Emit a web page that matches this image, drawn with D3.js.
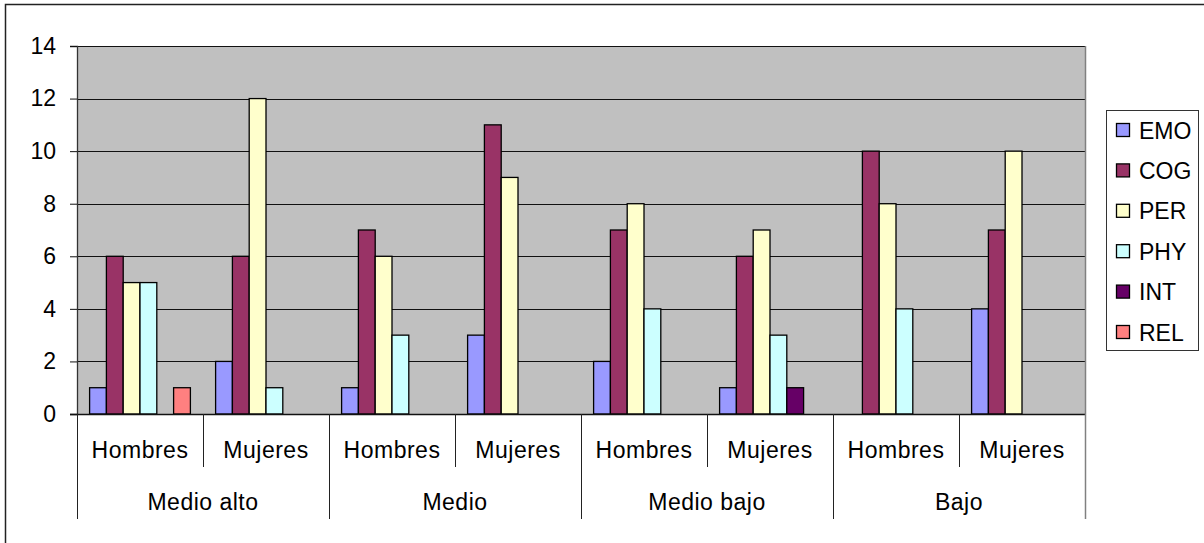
<!DOCTYPE html>
<html>
<head>
<meta charset="utf-8">
<script src="https://cdn.jsdelivr.net/npm/d3@7"></script>
<style>
  html, body { margin: 0; padding: 0; background: #fff; }
  svg { display: block; font-family: "Liberation Sans", Arial, sans-serif; }
</style>
</head>
<body>
<svg id="chart" width="1204" height="543"></svg>
<script>
// ---- Data ----
const groups = ["Medio alto", "Medio", "Medio bajo", "Bajo"];
const genders = ["Hombres", "Mujeres"];
const seriesNames = ["EMO", "COG", "PER", "PHY", "INT", "REL"];
const seriesColors = ["#9999FF", "#993366", "#FFFFCC", "#CCFFFF", "#660066", "#FF8080"];
// values per series, order: MA-H, MA-M, M-H, M-M, MB-H, MB-M, B-H, B-M
const EMO = [1, 2, 1, 3, 2, 1, 0, 4];
const COG = [6, 6, 7, 11, 7, 6, 10, 7];
const PER = [5, 12, 6, 9, 8, 7, 8, 10];
const PHY = [5, 1, 3, 0, 4, 3, 4, 0];
const INT = [0, 0, 0, 0, 0, 1, 0, 0];
const REL = [1, 0, 0, 0, 0, 0, 0, 0];
const yTicks = [0, 2, 4, 6, 8, 10, 12, 14];

const seriesValues = [EMO, COG, PER, PHY, INT, REL];

// ---- Layout ----
const svg = d3.select("#chart");
const plot = { left: 77, right: 1085, top: 46, bottom: 414 };
const FS = 23;

// outer border (only top/left visible in reference)
svg.append("path")
  .attr("d", "M5.5,600 V4.5 H1300")
  .attr("fill", "none").attr("stroke", "#222").attr("stroke-width", 1.5);

const subcats = [];
groups.forEach(g => genders.forEach(s => subcats.push(g + "|" + s)));

const x0 = d3.scaleBand().domain(subcats).range([plot.left, plot.right]).padding(0);
const xg = d3.scaleBand().domain(groups).range([plot.left, plot.right]).padding(0);
const x1 = d3.scaleBand().domain(seriesNames).range([0, x0.bandwidth()])
  .paddingInner(0).paddingOuter(0.75);
const y = d3.scaleLinear().domain([0, 14]).range([plot.bottom, plot.top]);
const color = d3.scaleOrdinal().domain(seriesNames).range(seriesColors);

// plot background
svg.append("rect")
  .attr("x", plot.left).attr("y", plot.top)
  .attr("width", plot.right - plot.left).attr("height", plot.bottom - plot.top)
  .attr("fill", "#C0C0C0");

// gridlines
svg.append("g").selectAll("line").data(yTicks.filter(d => d > 0)).join("line")
  .attr("x1", plot.left).attr("x2", plot.right)
  .attr("y1", d => Math.round(y(d)) + 0.5).attr("y2", d => Math.round(y(d)) + 0.5)
  .attr("stroke", "#111").attr("stroke-width", 1);

// right border of plot
svg.append("line")
  .attr("x1", plot.right + 0.5).attr("x2", plot.right + 0.5)
  .attr("y1", plot.top).attr("y2", plot.bottom)
  .attr("stroke", "#808080").attr("stroke-width", 1.5);

// bars
const barData = [];
seriesNames.forEach((s, si) => {
  seriesValues[si].forEach((v, ci) => {
    if (v > 0) barData.push({ s, v, c: subcats[ci] });
  });
});
svg.append("g").selectAll("rect").data(barData).join("rect")
  .attr("x", d => x0(d.c) + x1(d.s))
  .attr("y", d => y(d.v))
  .attr("width", x1.bandwidth())
  .attr("height", d => y(0) - y(d.v))
  .attr("fill", d => color(d.s))
  .attr("stroke", "#000").attr("stroke-width", 1.3);

// y axis
const yAxis = d3.axisLeft(y).tickValues(yTicks).tickSize(7).tickPadding(14).tickFormat(d3.format("d"));
const gy = svg.append("g").attr("transform", `translate(${plot.left},0)`).call(yAxis);
gy.select(".domain").attr("stroke", "#333").attr("stroke-width", 1.3);
gy.selectAll(".tick line").attr("stroke", "#111");
gy.selectAll(".tick text").attr("font-size", FS).attr("fill", "#000")
  .attr("font-family", "Liberation Sans, Arial, sans-serif");

// x axis baseline
svg.append("line")
  .attr("x1", plot.left - 7).attr("x2", plot.right)
  .attr("y1", plot.bottom + 0.5).attr("y2", plot.bottom + 0.5)
  .attr("stroke", "#111").attr("stroke-width", 1.3);

// subcategory dividers
const subDiv = subcats.filter((d, i) => i % 2 === 1).map(d => x0(d));
svg.append("g").selectAll("line").data(subDiv).join("line")
  .attr("x1", d => Math.round(d) + 0.5).attr("x2", d => Math.round(d) + 0.5)
  .attr("y1", plot.bottom).attr("y2", 467)
  .attr("stroke", "#222").attr("stroke-width", 1);

// group dividers
const grpDiv = groups.map(g => xg(g)).concat([plot.right]);
svg.append("g").selectAll("line").data(grpDiv).join("line")
  .attr("x1", d => Math.round(d) + 0.5).attr("x2", d => Math.round(d) + 0.5)
  .attr("y1", plot.bottom).attr("y2", 519)
  .attr("stroke", (d, i) => i === grpDiv.length - 1 ? "#808080" : "#222")
  .attr("stroke-width", (d, i) => i === grpDiv.length - 1 ? 1.5 : 1);

// subcategory labels
svg.append("g").selectAll("text").data(subcats).join("text")
  .attr("x", d => x0(d) + x0.bandwidth() / 2)
  .attr("y", 450)
  .attr("text-anchor", "middle").attr("dominant-baseline", "central")
  .attr("font-size", FS).attr("letter-spacing", 0.5)
  .text(d => d.split("|")[1]);

// group labels
svg.append("g").selectAll("text").data(groups).join("text")
  .attr("x", d => xg(d) + xg.bandwidth() / 2)
  .attr("y", 502)
  .attr("text-anchor", "middle").attr("dominant-baseline", "central")
  .attr("font-size", FS).attr("letter-spacing", 0.5)
  .text(d => d);

// legend
const lg = svg.append("g");
lg.append("rect").attr("x", 1106.5).attr("y", 110.5).attr("width", 92).attr("height", 240)
  .attr("fill", "#fff").attr("stroke", "#333").attr("stroke-width", 1);
const ly = d3.scalePoint().domain(seriesNames).range([130, 332]);
const items = lg.selectAll("g.item").data(seriesNames).join("g").attr("class", "item")
  .attr("transform", d => `translate(1116,${ly(d)})`);
items.append("rect").attr("x", 0.5).attr("y", -6.5).attr("width", 13).attr("height", 13)
  .attr("fill", d => color(d)).attr("stroke", "#000").attr("stroke-width", 1.3);
items.append("text").attr("x", 23).attr("y", 0.5).attr("dominant-baseline", "central")
  .attr("font-size", FS).text(d => d);
</script>
</body>
</html>
